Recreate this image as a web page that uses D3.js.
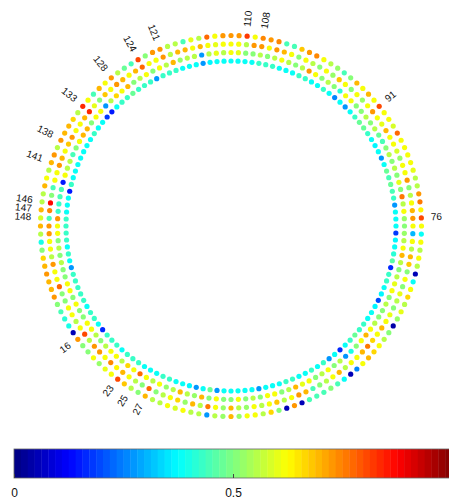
<!DOCTYPE html>
<meta charset="utf-8">
<style>
body { margin: 0; background: #fff; }
text { font-family: "Liberation Sans", Arial, Helvetica, sans-serif; fill: #111; }
</style>
<script src="https://d3js.org/d3.v7.min.js"></script>
<body>
<div id="chart"></div>
</body>
<script>
// number of sites on each ring, numbered counter-clockwise from the left
var nPoints = 148;

// ring values, site 1..148 (ring1 = innermost, ring4 = outermost)
var ring1 = [
  0.43,0.43,0.43,0.38,0.43,0.38,0.27,0.43,0.43,0.43,
  0.43,0.43,0.38,0.43,0.43,0.38,0.17,0.43,0.43,0.43,
  0.38,0.43,0.43,0.43,0.38,0.38,0.38,0.43,0.43,0.38,
  0.38,0.36,0.27,0.38,0.47,0.27,0.38,0.38,0.38,0.38,
  0.38,0.27,0.38,0.38,0.38,0.43,0.43,0.38,0.38,0.43,
  0.38,0.43,0.28,0.38,0.17,0.38,0.43,0.47,0.43,0.43,
  0.38,0.38,0.36,0.20,0.36,0.38,0.43,0.43,0.17,0.46,
  0.42,0.38,0.37,0.18,0.38,0.38,0.38,0.27,0.43,0.44,
  0.47,0.45,0.48,0.38,0.27,0.38,0.36,0.38,0.43,0.48,
  0.48,0.43,0.38,0.28,0.38,0.25,0.38,0.43,0.38,0.38,
  0.43,0.43,0.38,0.38,0.38,0.43,0.43,0.43,0.38,0.38,
  0.38,0.38,0.38,0.38,0.36,0.27,0.38,0.38,0.38,0.43,
  0.43,0.43,0.28,0.43,0.43,0.43,0.47,0.43,0.43,0.38,
  0.15,0.18,0.38,0.38,0.43,0.38,0.38,0.38,0.38,0.38,
  0.38,0.38,0.43,0.15,0.38,0.38,0.38,0.43
];
var ring2 = [
  0.62,0.62,0.50,0.56,0.50,0.56,0.50,0.50,0.62,0.62,
  0.50,0.62,0.50,0.50,0.62,0.62,0.56,0.50,0.56,0.62,
  0.62,0.56,0.66,0.62,0.78,0.62,0.56,0.62,0.52,0.56,
  0.70,0.56,0.52,0.70,0.50,0.62,0.50,0.50,0.62,0.50,
  0.56,0.50,0.62,0.62,0.50,0.56,0.70,0.60,0.62,0.50,
  0.56,0.62,0.50,0.56,0.28,0.40,0.50,0.62,0.70,0.62,
  0.56,0.50,0.50,0.56,0.50,0.62,0.60,0.56,0.50,0.56,
  0.70,0.62,0.56,0.52,0.50,0.52,0.62,0.56,0.76,0.50,
  0.60,0.50,0.56,0.50,0.55,0.50,0.45,0.48,0.56,0.50,
  0.56,0.50,0.50,0.62,0.62,0.42,0.50,0.56,0.50,0.62,
  0.72,0.56,0.50,0.56,0.62,0.56,0.50,0.56,0.50,0.50,
  0.60,0.62,0.56,0.60,0.56,0.27,0.56,0.56,0.52,0.70,
  0.56,0.62,0.50,0.62,0.56,0.50,0.70,0.62,0.66,0.56,
  0.27,0.62,0.62,0.50,0.70,0.70,0.62,0.50,0.45,0.56,
  0.56,0.62,0.15,0.45,0.45,0.43,0.43,0.72
];
var ring3 = [
  0.72,0.72,0.62,0.62,0.56,0.72,0.62,0.62,0.78,0.50,
  0.50,0.62,0.62,0.56,0.62,0.80,0.56,0.72,0.72,0.62,
  0.74,0.64,0.70,0.62,0.56,0.50,0.78,0.50,0.56,0.62,
  0.66,0.52,0.70,0.56,0.76,0.62,0.52,0.70,0.56,0.52,
  0.62,0.56,0.62,0.68,0.56,0.62,0.72,0.70,0.45,0.50,
  0.56,0.62,0.70,0.56,0.62,0.62,0.70,0.76,0.66,0.62,
  0.70,0.62,0.60,0.50,0.56,0.60,0.50,0.62,0.50,0.68,
  0.70,0.56,0.62,0.30,0.62,0.72,0.70,0.62,0.56,0.50,
  0.72,0.62,0.62,0.52,0.58,0.62,0.62,0.70,0.60,0.62,
  0.72,0.62,0.52,0.62,0.50,0.62,0.68,0.52,0.62,0.50,
  0.56,0.62,0.50,0.62,0.70,0.72,0.62,0.72,0.72,0.56,
  0.62,0.62,0.62,0.60,0.62,0.70,0.62,0.70,0.70,0.56,
  0.72,0.62,0.62,0.78,0.70,0.62,0.70,0.72,0.62,0.68,
  0.50,0.60,0.84,0.70,0.62,0.62,0.72,0.68,0.62,0.70,
  0.72,0.62,0.62,0.45,0.50,0.87,0.74,0.45
];
var ring4 = [
  0.70,0.56,0.40,0.50,0.66,0.70,0.72,0.70,0.70,0.72,
  0.50,0.45,0.42,0.40,0.05,0.72,0.50,0.50,0.62,0.52,
  0.60,0.62,0.80,0.68,0.56,0.50,0.70,0.56,0.56,0.62,
  0.58,0.62,0.56,0.56,0.27,0.56,0.52,0.70,0.52,0.62,
  0.62,0.56,0.66,0.50,0.05,0.72,0.06,0.44,0.45,0.45,
  0.50,0.44,0.38,0.06,0.25,0.62,0.70,0.66,0.62,0.56,
  0.50,0.04,0.52,0.60,0.56,0.66,0.62,0.38,0.05,0.56,
  0.62,0.56,0.62,0.38,0.62,0.80,0.64,0.76,0.72,0.56,
  0.56,0.60,0.62,0.62,0.62,0.62,0.78,0.58,0.62,0.62,
  0.80,0.62,0.70,0.62,0.70,0.50,0.45,0.52,0.56,0.62,
  0.74,0.72,0.68,0.45,0.45,0.74,0.72,0.74,0.62,0.82,
  0.72,0.72,0.72,0.62,0.78,0.56,0.60,0.45,0.55,0.55,
  0.72,0.72,0.50,0.80,0.45,0.48,0.56,0.72,0.62,0.70,
  0.45,0.62,0.83,0.56,0.66,0.70,0.70,0.72,0.55,0.72,
  0.70,0.56,0.62,0.70,0.55,0.55,0.70,0.58
];

// sites that carry a number outside the rings
var labelSites = [16, 23, 25, 27, 76, 91, 108, 110, 121, 124, 128, 133, 138, 141, 146, 147, 148];

// colorbar ticks (the bar runs past the right edge, so 1 is not shown)
var cbTicks = [0, 0.5];
var cbTickLabels = ["0", "0.5"];

var W = 449, H = 499;
var cx = 231, cy = 226;

var svg = d3.select("#chart").append("svg")
    .attr("width", W)
    .attr("height", H);

// jet colormap, 64 levels
function jetColor(t) {
  var c = function(v) { return Math.round(255 * Math.max(0, Math.min(1, v))); };
  return d3.rgb(c(1.5 - Math.abs(4 * t - 3)), c(1.5 - Math.abs(4 * t - 2)), c(1.5 - Math.abs(4 * t - 1))).formatHex();
}
var jet64 = d3.range(64).map(function(k) { return jetColor((k + 0.5) / 64); });
var color = d3.scaleQuantize().domain([0, 1]).range(jet64);

// site -> angle (degrees, counter-clockwise from +x), ring -> radius
var angle = d3.scaleLinear().domain([1, nPoints + 1]).range([180, 540]);
var radius = d3.scaleLinear().domain([0, 3]).range([165, 190.5]);

function px(a, r) { return cx + r * Math.cos(a * Math.PI / 180); }
function py(a, r) { return cy - r * Math.sin(a * Math.PI / 180); }

var rings = [ring1, ring2, ring3, ring4];
var dots = [];
rings.forEach(function(vals, ri) {
  vals.forEach(function(v, i) {
    dots.push({ ring: ri, site: i + 1, value: v });
  });
});

svg.append("g").selectAll("circle")
    .data(dots)
  .enter().append("circle")
    .attr("cx", function(d) { return px(angle(d.site), radius(d.ring)); })
    .attr("cy", function(d) { return py(angle(d.site), radius(d.ring)); })
    .attr("r", 2.6)
    .attr("fill", function(d) { return color(d.value); });

// site numbers, written along the radius
var labelR = 200;
svg.append("g").selectAll("text")
    .data(labelSites)
  .enter().append("text")
    .attr("font-size", 10)
    .attr("dominant-baseline", "middle")
    .attr("text-anchor", function(d) {
      var a = angle(d) % 360;
      return (a > 90 && a < 270) ? "end" : "start";
    })
    .attr("transform", function(d) {
      var a = angle(d) % 360;
      var rot = (a > 90 && a < 270) ? 180 - a : -a;
      return "translate(" + px(a, labelR) + "," + py(a, labelR) + ") rotate(" + rot + ")";
    })
    .text(function(d) { return d; });

// colorbar
var cbX = d3.scaleLinear().domain([0, 1]).range([14, 452]);
var cbTop = 449, cbH = 29;
var cb = svg.append("g");
cb.selectAll("rect")
    .data(jet64)
  .enter().append("rect")
    .attr("x", function(d, k) { return cbX(k / 64); })
    .attr("y", cbTop)
    .attr("width", function(d, k) { return cbX((k + 1) / 64) - cbX(k / 64) + 0.4; })
    .attr("height", cbH)
    .attr("fill", function(d) { return d; });
cb.append("rect")
    .attr("x", cbX(0)).attr("y", cbTop)
    .attr("width", cbX(1) - cbX(0)).attr("height", cbH)
    .attr("fill", "none").attr("stroke", "#666").attr("stroke-width", 0.8);

var axis = d3.axisBottom(cbX)
    .tickValues(cbTicks)
    .tickFormat(function(d, i) { return cbTickLabels[i]; })
    .tickSizeInner(-4)
    .tickSizeOuter(0)
    .tickPadding(10);
var ax = svg.append("g")
    .attr("transform", "translate(0," + (cbTop + cbH) + ")")
    .call(axis);
ax.select(".domain").remove();
ax.selectAll(".tick line").attr("stroke", "#444");
ax.selectAll(".tick text")
    .attr("font-size", 12)
    .attr("fill", "#111")
    .style("font-family", "'Liberation Sans', Arial, sans-serif");
</script>
